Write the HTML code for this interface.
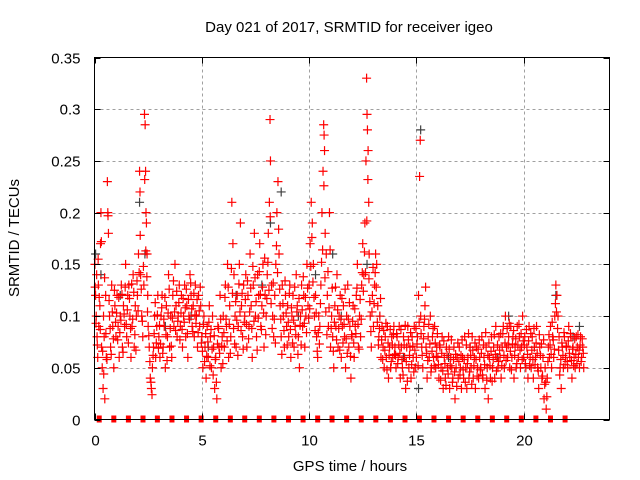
<!DOCTYPE html>
<html><head><meta charset="utf-8"><style>
html,body{margin:0;padding:0;background:#fff;}
svg{display:block;font-family:"Liberation Sans",Arial,sans-serif;}
</style></head><body>
<svg id="chart" width="640" height="480" viewBox="0 0 640 480" xmlns="http://www.w3.org/2000/svg">
<rect width="640" height="480" fill="#fff"/>
<text x="349" y="32" font-size="15" text-anchor="middle">Day 021 of 2017, SRMTID for receiver igeo</text>
<text transform="translate(19,238) rotate(-90)" font-size="15" text-anchor="middle">SRMTID / TECUs</text>
<text x="350" y="471" font-size="15" text-anchor="middle">GPS time / hours</text>
<g id="grid"></g>
<g id="marks"></g>
<rect x="94.5" y="57.5" width="515" height="362" fill="none" stroke="#000" stroke-width="1"/>
<g id="ticks"></g>
</svg>
<script>
const xTicks=[0,5,10,15,20];
const yTicks=[0,0.05,0.1,0.15,0.2,0.25,0.3,0.35];
const yTickLabels=["0","0.05","0.1","0.15","0.2","0.25","0.3","0.35"];
const markerTimes=[0.22,0.9,1.58,2.26,2.93,3.61,4.29,4.97,5.65,6.33,7.0,7.68,8.36,9.04,9.72,10.4,11.07,11.75,12.43,13.11,13.79,14.47,15.14,15.82,16.5,17.18,17.86,18.54,19.21,19.89,20.57,21.25,21.93];
const blackSeries=[[0.05,0.16],[0.3,0.14],[1.2,0.12],[2.1,0.21],[2.35,0.16],[3.3,0.09],[4.5,0.1],[5.3,0.07],[6.6,0.12],[7.8,0.13],[8.2,0.19],[8.7,0.22],[9.5,0.1],[10.3,0.14],[11.1,0.16],[11.5,0.1],[12.7,0.15],[13.3,0.1],[14.4,0.06],[15.2,0.28],[15.1,0.03],[16.5,0.06],[17.5,0.07],[18.8,0.06],[19.3,0.1],[20.5,0.07],[21.5,0.12],[22.3,0.08],[22.6,0.09]];
const redSeries=[
[0.02,0.15],[0.05,0.12],[0.08,0.1],[0.1,0.14],[0.12,0.08],[0.15,0.06],[0.18,0.13],[0.2,0.09],[0.25,0.11],[0.28,0.17],[0.3,0.2],[0.33,0.07],[0.36,0.05],[0.4,0.03],[0.42,0.1],[0.45,0.08],[0.48,0.02],[0.52,0.12],[0.55,0.06],[0.6,0.23],[0.62,0.2],[0.65,0.18],[0.7,0.1],[0.75,0.07],[0.8,0.13],[0.85,0.09],[0.9,0.05],[0.95,0.11],
[1.0,0.08],[1.05,0.12],[1.1,0.09],[1.15,0.06],[1.2,0.1],[1.25,0.13],[1.3,0.07],[1.35,0.11],[1.4,0.09],[1.45,0.15],[1.5,0.08],[1.55,0.12],[1.6,0.13],[1.65,0.1],[1.7,0.06],[1.75,0.09],[1.8,0.14],[1.85,0.07],[1.9,0.11],[1.95,0.1],
[2.0,0.12],[2.05,0.16],[2.1,0.24],[2.12,0.22],[2.15,0.14],[2.2,0.1],[2.25,0.08],[2.3,0.13],[2.33,0.295],[2.36,0.285],[2.38,0.24],[2.4,0.2],[2.42,0.19],[2.45,0.16],[2.48,0.12],[2.5,0.09],[2.55,0.07],[2.6,0.04],[2.65,0.03],[2.7,0.05],[2.75,0.07],[2.8,0.1],[2.85,0.06],[2.9,0.09],[2.95,0.12],
[3.0,0.08],[3.05,0.06],[3.1,0.1],[3.15,0.12],[3.2,0.07],[3.25,0.09],[3.3,0.05],[3.35,0.11],[3.4,0.08],[3.45,0.14],[3.5,0.07],[3.55,0.1],[3.6,0.06],[3.65,0.12],[3.7,0.09],[3.75,0.15],[3.8,0.11],[3.85,0.08],[3.9,0.1],[3.95,0.13],
[4.0,0.09],[4.05,0.12],[4.1,0.07],[4.15,0.1],[4.2,0.13],[4.25,0.08],[4.3,0.11],[4.35,0.06],[4.4,0.1],[4.45,0.14],[4.5,0.12],[4.55,0.09],[4.6,0.11],[4.65,0.08],[4.7,0.13],[4.75,0.1],[4.8,0.07],[4.85,0.12],[4.9,0.09],[4.95,0.11],
[5.0,0.08],[5.05,0.05],[5.1,0.1],[5.15,0.07],[5.2,0.04],[5.25,0.09],[5.3,0.06],[5.35,0.11],[5.4,0.08],[5.45,0.05],[5.5,0.1],[5.55,0.07],[5.6,0.03],[5.65,0.06],[5.7,0.02],[5.75,0.09],[5.8,0.07],[5.85,0.12],[5.9,0.05],[5.95,0.08],
[6.0,0.1],[6.05,0.07],[6.1,0.13],[6.15,0.09],[6.2,0.15],[6.25,0.06],[6.3,0.11],[6.35,0.08],[6.4,0.21],[6.45,0.17],[6.5,0.14],[6.55,0.1],[6.6,0.07],[6.65,0.12],[6.7,0.09],[6.75,0.15],[6.8,0.19],[6.85,0.11],[6.9,0.08],[6.95,0.13],
[7.0,0.1],[7.05,0.14],[7.1,0.07],[7.15,0.12],[7.2,0.09],[7.25,0.16],[7.3,0.11],[7.35,0.06],[7.4,0.13],[7.45,0.18],[7.5,0.1],[7.55,0.08],[7.6,0.14],[7.65,0.12],[7.7,0.17],[7.75,0.09],[7.8,0.11],[7.85,0.15],[7.9,0.07],[7.95,0.12],
[8.0,0.1],[8.05,0.14],[8.1,0.18],[8.15,0.21],[8.18,0.29],[8.2,0.25],[8.25,0.13],[8.3,0.1],[8.35,0.08],[8.4,0.12],[8.45,0.15],[8.5,0.2],[8.55,0.23],[8.6,0.16],[8.65,0.11],[8.7,0.08],[8.75,0.13],[8.8,0.1],[8.85,0.07],[8.9,0.12],[8.95,0.09],
[9.0,0.11],[9.05,0.08],[9.1,0.13],[9.15,0.06],[9.2,0.1],[9.25,0.12],[9.3,0.07],[9.35,0.09],[9.4,0.14],[9.45,0.11],[9.5,0.08],[9.55,0.05],[9.6,0.1],[9.65,0.13],[9.7,0.09],[9.75,0.12],[9.8,0.07],[9.85,0.1],[9.9,0.15],[9.95,0.11],
[10.0,0.13],[10.05,0.17],[10.1,0.21],[10.15,0.19],[10.2,0.15],[10.25,0.1],[10.3,0.12],[10.35,0.08],[10.4,0.06],[10.45,0.1],[10.5,0.09],[10.55,0.13],[10.6,0.2],[10.65,0.24],[10.68,0.285],[10.7,0.275],[10.72,0.26],[10.75,0.18],[10.8,0.16],[10.85,0.12],[10.9,0.09],[10.95,0.2],
[11.0,0.07],[11.05,0.1],[11.1,0.08],[11.15,0.05],[11.2,0.11],[11.25,0.09],[11.3,0.14],[11.35,0.07],[11.4,0.1],[11.45,0.12],[11.5,0.06],[11.55,0.09],[11.6,0.11],[11.65,0.08],[11.7,0.05],[11.75,0.1],[11.8,0.13],[11.85,0.07],[11.9,0.09],[11.95,0.04],
[12.0,0.08],[12.05,0.11],[12.1,0.06],[12.15,0.09],[12.2,0.12],[12.25,0.15],[12.3,0.07],[12.35,0.1],[12.4,0.08],[12.45,0.13],[12.5,0.17],[12.55,0.14],[12.6,0.19],[12.65,0.25],[12.68,0.33],[12.7,0.295],[12.72,0.28],[12.75,0.26],[12.78,0.21],[12.8,0.16],[12.85,0.1],[12.9,0.07],[12.95,0.12],
[13.0,0.09],[13.05,0.13],[13.1,0.16],[13.15,0.15],[13.2,0.11],[13.25,0.08],[13.3,0.1],[13.35,0.06],[13.4,0.09],[13.45,0.07],[13.5,0.05],[13.55,0.08],[13.6,0.06],[13.65,0.09],[13.7,0.04],[13.75,0.07],[13.8,0.05],[13.85,0.08],[13.9,0.06],[13.95,0.09],
[14.0,0.07],[14.05,0.05],[14.1,0.08],[14.15,0.06],[14.2,0.09],[14.25,0.04],[14.3,0.07],[14.35,0.05],[14.4,0.08],[14.45,0.06],[14.5,0.03],[14.55,0.07],[14.6,0.09],[14.65,0.05],[14.7,0.07],[14.75,0.04],[14.8,0.08],[14.85,0.06],[14.9,0.09],[14.95,0.05],
[15.0,0.06],[15.05,0.08],[15.1,0.12],[15.15,0.235],[15.18,0.27],[15.2,0.1],[15.25,0.07],[15.3,0.05],[15.35,0.09],[15.4,0.11],[15.45,0.07],[15.5,0.04],[15.55,0.08],[15.6,0.06],[15.65,0.1],[15.7,0.05],[15.75,0.08],[15.8,0.06],[15.85,0.09],[15.9,0.05],[15.95,0.07],
[16.0,0.06],[16.05,0.04],[16.1,0.07],[16.15,0.05],[16.2,0.08],[16.25,0.03],[16.3,0.06],[16.35,0.04],[16.4,0.07],[16.45,0.05],[16.5,0.08],[16.55,0.03],[16.6,0.06],[16.65,0.05],[16.7,0.04],[16.75,0.07],[16.8,0.02],[16.85,0.05],[16.9,0.06],[16.95,0.04],
[17.0,0.07],[17.05,0.05],[17.1,0.03],[17.15,0.06],[17.2,0.04],[17.25,0.08],[17.3,0.05],[17.35,0.03],[17.4,0.06],[17.45,0.04],[17.5,0.07],[17.55,0.05],[17.6,0.08],[17.65,0.04],[17.7,0.06],[17.75,0.03],[17.8,0.07],[17.85,0.05],[17.9,0.04],[17.95,0.06],
[18.0,0.05],[18.05,0.08],[18.1,0.04],[18.15,0.06],[18.2,0.03],[18.25,0.07],[18.3,0.05],[18.35,0.02],[18.4,0.06],[18.45,0.04],[18.5,0.08],[18.55,0.05],[18.6,0.07],[18.65,0.04],[18.7,0.09],[18.75,0.06],[18.8,0.05],[18.85,0.08],[18.9,0.06],[18.95,0.04],
[19.0,0.07],[19.05,0.09],[19.1,0.05],[19.15,0.1],[19.2,0.07],[19.25,0.06],[19.3,0.08],[19.35,0.05],[19.4,0.09],[19.45,0.06],[19.5,0.08],[19.55,0.04],[19.6,0.07],[19.65,0.05],[19.7,0.09],[19.75,0.06],[19.8,0.08],[19.85,0.05],[19.9,0.07],[19.95,0.1],
[20.0,0.06],[20.05,0.08],[20.1,0.05],[20.15,0.07],[20.2,0.04],[20.25,0.09],[20.3,0.06],[20.35,0.05],[20.4,0.08],[20.45,0.04],[20.5,0.07],[20.55,0.06],[20.6,0.09],[20.65,0.05],[20.7,0.03],[20.75,0.07],[20.8,0.05],[20.85,0.04],[20.9,0.06],[20.95,0.02],
[21.0,0.05],[21.05,0.01],[21.1,0.04],[21.15,0.07],[21.2,0.06],[21.25,0.09],[21.3,0.05],[21.35,0.08],[21.4,0.06],[21.45,0.1],[21.5,0.13],[21.55,0.12],[21.6,0.1],[21.65,0.08],[21.7,0.05],[21.75,0.03],[21.8,0.07],[21.85,0.05],[21.9,0.08],[21.95,0.06],
[22.0,0.07],[22.05,0.05],[22.1,0.09],[22.15,0.06],[22.2,0.08],[22.25,0.04],[22.3,0.07],[22.35,0.06],[22.4,0.05],[22.45,0.08],[22.5,0.07],[22.55,0.06],[22.6,0.05],[22.65,0.08],[22.7,0.06],[22.75,0.07],[22.8,0.05]
];
const redSeriesB=[
[0.03,0.128],[0.07,0.093],[0.13,0.072],[0.17,0.155],[0.22,0.118],[0.27,0.087],[0.32,0.172],[0.38,0.066],[0.43,0.044],[0.47,0.137],[0.53,0.083],[0.58,0.058],[0.63,0.197],[0.68,0.115],[0.73,0.088],[0.78,0.063],[0.83,0.104],[0.88,0.078],[0.93,0.125],[0.98,0.094],
[1.03,0.103],[1.08,0.077],[1.13,0.118],[1.18,0.084],[1.23,0.096],[1.28,0.121],[1.33,0.065],[1.38,0.102],[1.43,0.128],[1.48,0.092],[1.53,0.106],[1.58,0.074],[1.63,0.117],[1.68,0.088],[1.73,0.131],[1.78,0.097],[1.83,0.123],[1.88,0.082],[1.93,0.067],[1.98,0.134],
[2.03,0.105],[2.08,0.142],[2.13,0.178],[2.18,0.126],[2.23,0.095],[2.28,0.148],[2.34,0.232],[2.39,0.163],[2.44,0.138],[2.47,0.104],[2.53,0.081],[2.58,0.056],[2.63,0.036],[2.68,0.024],[2.73,0.062],[2.78,0.083],[2.83,0.113],[2.88,0.074],[2.93,0.101],[2.98,0.069],
[3.03,0.091],[3.08,0.073],[3.13,0.108],[3.18,0.064],[3.23,0.097],[3.28,0.118],[3.33,0.082],[3.38,0.057],[3.43,0.103],[3.48,0.126],[3.53,0.088],[3.58,0.071],[3.63,0.098],[3.68,0.134],[3.73,0.104],[3.78,0.086],[3.83,0.124],[3.88,0.095],[3.93,0.113],[3.98,0.077],
[4.03,0.103],[4.08,0.087],[4.13,0.117],[4.18,0.094],[4.23,0.108],[4.28,0.126],[4.33,0.083],[4.38,0.116],[4.43,0.097],[4.48,0.132],[4.53,0.107],[4.58,0.085],[4.63,0.122],[4.68,0.101],[4.73,0.093],[4.78,0.116],[4.83,0.084],[4.88,0.105],[4.93,0.128],[4.98,0.074],
[5.03,0.066],[5.08,0.092],[5.13,0.056],[5.18,0.083],[5.23,0.061],[5.28,0.075],[5.33,0.094],[5.38,0.052],[5.43,0.087],[5.48,0.068],[5.53,0.043],[5.58,0.081],[5.63,0.058],[5.68,0.036],[5.73,0.073],[5.78,0.088],[5.83,0.064],[5.88,0.097],[5.93,0.071],[5.98,0.054],
[6.03,0.084],[6.08,0.118],[6.13,0.097],[6.18,0.076],[6.23,0.128],[6.28,0.092],[6.33,0.064],[6.38,0.146],[6.43,0.122],[6.48,0.088],[6.53,0.073],[6.58,0.114],[6.63,0.096],[6.68,0.062],[6.73,0.131],[6.78,0.104],[6.83,0.086],[6.88,0.122],[6.93,0.068],[6.98,0.094],
[7.03,0.116],[7.08,0.092],[7.13,0.134],[7.18,0.078],[7.23,0.104],[7.28,0.127],[7.33,0.088],[7.38,0.148],[7.43,0.095],[7.48,0.137],[7.53,0.114],[7.58,0.067],[7.63,0.098],[7.68,0.143],[7.73,0.121],[7.78,0.087],[7.83,0.128],[7.88,0.103],[7.93,0.156],[7.98,0.082],
[8.03,0.117],[8.08,0.152],[8.13,0.125],[8.19,0.196],[8.23,0.112],[8.28,0.088],[8.33,0.132],[8.38,0.097],[8.43,0.074],[8.48,0.168],[8.53,0.142],[8.58,0.184],[8.63,0.126],[8.68,0.097],[8.73,0.063],[8.78,0.112],[8.83,0.086],[8.88,0.134],[8.93,0.103],[8.98,0.072],
[9.03,0.094],[9.08,0.122],[9.13,0.087],[9.18,0.108],[9.23,0.074],[9.28,0.096],[9.33,0.128],[9.38,0.082],[9.43,0.104],[9.48,0.063],[9.53,0.117],[9.58,0.091],[9.63,0.072],[9.68,0.106],[9.73,0.138],[9.78,0.093],[9.83,0.118],[9.88,0.084],[9.93,0.127],[9.98,0.098],
[10.03,0.107],[10.08,0.148],[10.13,0.176],[10.18,0.133],[10.23,0.118],[10.28,0.086],[10.33,0.103],[10.38,0.066],[10.43,0.084],[10.48,0.073],[10.53,0.112],[10.58,0.152],[10.63,0.164],[10.69,0.226],[10.74,0.137],[10.78,0.104],[10.83,0.082],[10.88,0.143],[10.93,0.108],[10.98,0.164],
[11.03,0.088],[11.08,0.127],[11.13,0.066],[11.18,0.094],[11.23,0.128],[11.28,0.077],[11.33,0.106],[11.38,0.088],[11.43,0.067],[11.48,0.097],[11.53,0.117],[11.58,0.074],[11.63,0.092],[11.68,0.126],[11.73,0.078],[11.78,0.064],[11.83,0.097],[11.88,0.113],[11.93,0.061],[11.98,0.082],
[12.03,0.095],[12.08,0.074],[12.13,0.107],[12.18,0.083],[12.23,0.127],[12.28,0.092],[12.33,0.068],[12.38,0.116],[12.43,0.097],[12.48,0.142],[12.53,0.124],[12.58,0.162],[12.63,0.142],[12.69,0.192],[12.74,0.232],[12.79,0.136],[12.83,0.114],[12.88,0.085],[12.93,0.104],[12.98,0.147],
[13.03,0.112],[13.08,0.142],[13.13,0.128],[13.18,0.094],[13.23,0.072],[13.28,0.088],[13.33,0.117],[13.38,0.077],[13.43,0.058],[13.48,0.086],[13.53,0.067],[13.58,0.093],[13.63,0.048],[13.68,0.074],[13.73,0.062],[13.78,0.087],[13.83,0.056],[13.88,0.072],[13.93,0.082],[13.98,0.063],
[14.03,0.062],[14.08,0.083],[14.13,0.054],[14.18,0.072],[14.23,0.064],[14.28,0.087],[14.33,0.058],[14.38,0.043],[14.43,0.072],[14.48,0.091],[14.53,0.056],[14.58,0.037],[14.63,0.077],[14.68,0.062],[14.73,0.084],[14.78,0.053],[14.83,0.071],[14.88,0.046],[14.93,0.067],[14.98,0.088],
[15.03,0.073],[15.08,0.052],[15.13,0.094],[15.22,0.083],[15.27,0.062],[15.33,0.078],[15.38,0.097],[15.43,0.128],[15.48,0.064],[15.53,0.057],[15.58,0.092],[15.63,0.073],[15.68,0.046],[15.73,0.066],[15.78,0.088],[15.83,0.052],[15.88,0.074],[15.93,0.061],[15.98,0.083],
[16.03,0.053],[16.08,0.072],[16.13,0.038],[16.18,0.064],[16.23,0.047],[16.28,0.076],[16.33,0.054],[16.38,0.033],[16.43,0.062],[16.48,0.044],[16.53,0.068],[16.58,0.052],[16.63,0.077],[16.68,0.036],[16.73,0.058],[16.78,0.046],[16.83,0.063],[16.88,0.032],[16.93,0.074],[16.98,0.056],
[17.03,0.043],[17.08,0.062],[17.13,0.077],[17.18,0.048],[17.23,0.058],[17.28,0.036],[17.33,0.072],[17.38,0.054],[17.43,0.083],[17.48,0.046],[17.53,0.062],[17.58,0.034],[17.63,0.067],[17.68,0.052],[17.73,0.074],[17.78,0.058],[17.83,0.042],[17.88,0.068],[17.93,0.077],[17.98,0.048],
[18.03,0.064],[18.08,0.043],[18.13,0.072],[18.18,0.053],[18.23,0.084],[18.28,0.038],[18.33,0.062],[18.38,0.074],[18.43,0.052],[18.48,0.066],[18.53,0.037],[18.58,0.058],[18.63,0.082],[18.68,0.063],[18.73,0.047],[18.78,0.072],[18.83,0.056],[18.88,0.067],[18.93,0.083],[18.98,0.052],
[19.03,0.083],[19.08,0.062],[19.13,0.074],[19.18,0.057],[19.23,0.088],[19.28,0.072],[19.33,0.093],[19.38,0.066],[19.43,0.048],[19.48,0.073],[19.53,0.086],[19.58,0.062],[19.63,0.078],[19.68,0.054],[19.73,0.072],[19.78,0.092],[19.83,0.067],[19.88,0.083],[19.93,0.058],[19.98,0.076],
[20.03,0.072],[20.08,0.054],[20.13,0.087],[20.18,0.063],[20.23,0.076],[20.28,0.052],[20.33,0.083],[20.38,0.067],[20.43,0.058],[20.48,0.088],[20.53,0.053],[20.58,0.074],[20.63,0.064],[20.68,0.047],[20.73,0.082],[20.78,0.062],[20.83,0.073],[20.88,0.042],[20.93,0.077],[20.98,0.034],
[21.03,0.036],[21.08,0.022],[21.13,0.056],[21.18,0.082],[21.23,0.072],[21.28,0.063],[21.33,0.094],[21.38,0.077],[21.43,0.068],[21.48,0.112],[21.53,0.104],[21.58,0.088],[21.63,0.067],[21.68,0.043],[21.73,0.058],[21.78,0.074],[21.83,0.062],[21.88,0.084],[21.93,0.053],[21.98,0.071],
[22.03,0.056],[22.08,0.076],[22.13,0.064],[22.18,0.083],[22.23,0.057],[22.28,0.068],[22.33,0.052],[22.38,0.078],[22.43,0.063],[22.48,0.054],[22.53,0.082],[22.58,0.067],[22.63,0.072],[22.68,0.056],[22.73,0.078],[22.78,0.064]
];
const NS="http://www.w3.org/2000/svg";
const L=94.5,R=609.5,T=57.5,B=419.5,XMAX=24,YMAX=0.35;
function xs(v){return L+(R-L)*v/XMAX;}
function ys(v){return B-(B-T)*v/YMAX;}
function mk(tag,attrs,parent){const e=document.createElementNS(NS,tag);for(const k in attrs)e.setAttribute(k,attrs[k]);parent.appendChild(e);return e;}
const grid=document.getElementById('grid'),ticks=document.getElementById('ticks'),marks=document.getElementById('marks');
yTicks.forEach((v,i)=>{
  const y=Math.round(ys(v))+0.5;
  if(i>0&&i<yTicks.length-1){const g=mk('line',{x1:L,x2:R,y1:y,y2:y,stroke:'#a0a0a0','stroke-dasharray':'3,3'},grid);
  
  }
  const t=mk('line',{x1:L,x2:L+6,y1:y,y2:y,stroke:'#000'},ticks);
  
  
  const t2=mk('line',{x1:R-6,x2:R,y1:y,y2:y,stroke:'#000'},ticks);
  
  
  const lb=mk('text',{x:L-14,y:y+5,'font-size':'15','text-anchor':'end'},ticks);
  lb.textContent=yTickLabels[i];
  
  
});
xTicks.forEach(v=>{
  const x=Math.round(xs(v))+0.5;
  if(v>0){const g=mk('line',{x1:x,x2:x,y1:T,y2:B,stroke:'#a0a0a0','stroke-dasharray':'3,3'},grid);
  
  }
  const t=mk('line',{x1:x,x2:x,y1:B,y2:B-6,stroke:'#000'},ticks);
  
  
  const t2=mk('line',{x1:x,x2:x,y1:T,y2:T+6,stroke:'#000'},ticks);
  
  
  const lb=mk('text',{x:x,y:B+26,'font-size':'15','text-anchor':'middle'},ticks);
  lb.textContent=String(v);
  
  
});
function cross(d,color,name){
  const x=xs(d[0]),y=ys(d[1]);
  const p=mk('path',{d:`M${x-4.5} ${y}h9M${x} ${y-4.5}v9`,stroke:color,'stroke-width':'1.2',fill:'none'},marks);
  
  
}
blackSeries.forEach(d=>cross(d,'#404040','black-point'));
redSeries.forEach(d=>cross(d,'#ff0000','red-point'));
redSeriesB.forEach(d=>cross(d,'#ff0000','red-point'));
markerTimes.forEach(t=>{
  const r=mk('rect',{x:xs(t)-2.5,y:ys(0)-4,width:5,height:7,fill:'#ff0000'},marks);
  
  
});
</script>
</body></html>
